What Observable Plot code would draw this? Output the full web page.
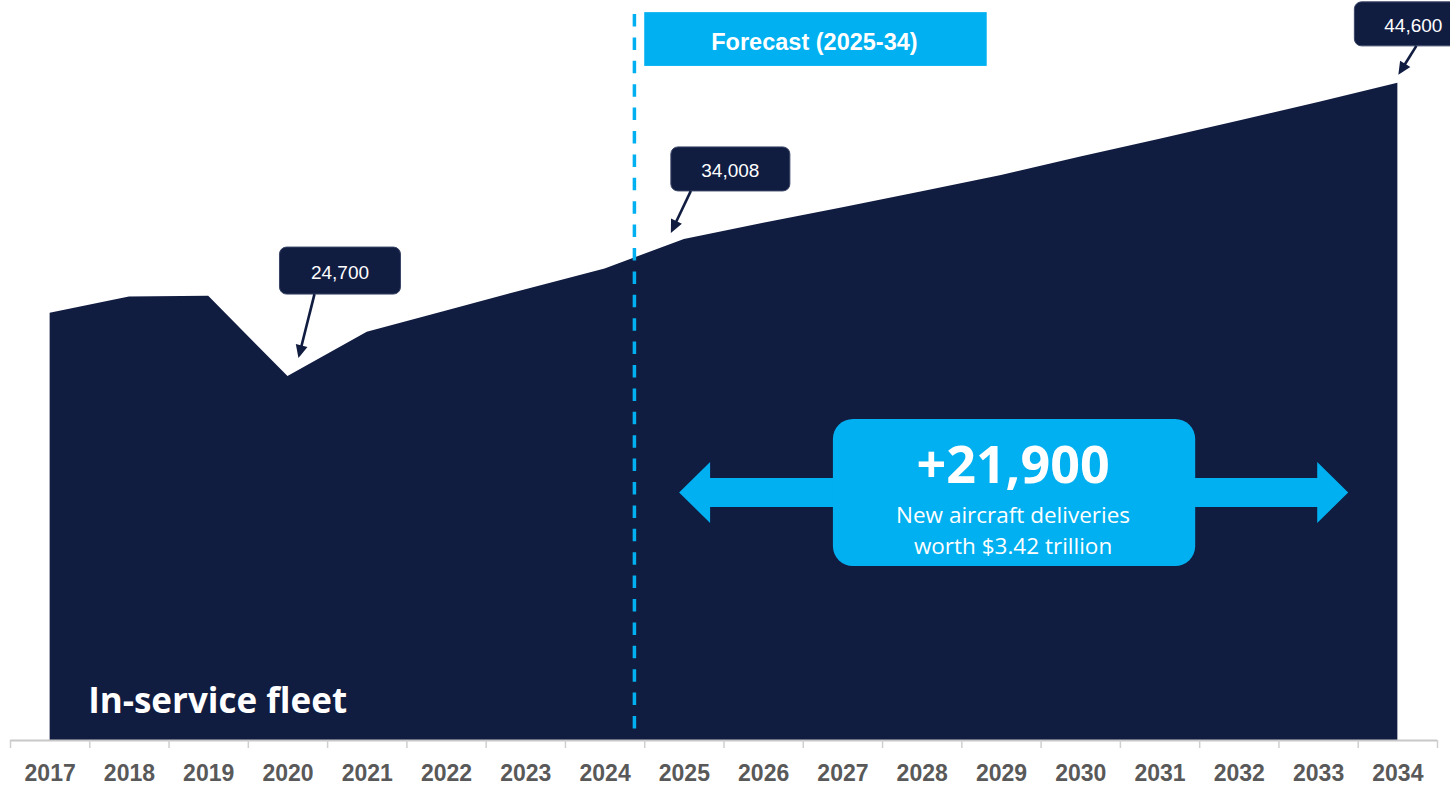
<!DOCTYPE html>
<html>
<head>
<meta charset="utf-8">
<script src="https://cdn.jsdelivr.net/npm/d3@7"></script>
<script src="https://cdn.jsdelivr.net/npm/@observablehq/plot@0.6"></script>
<style>
  html, body { margin: 0; padding: 0; background: #ffffff; overflow: hidden; }
  #chart svg { display: block; }
</style>
</head>
<body>
<div id="chart"></div>
<script>
// ---- data ----
const years = [2017, 2018, 2019, 2020, 2021, 2022, 2023, 2024, 2025, 2026, 2027, 2028, 2029, 2030, 2031, 2032, 2033, 2034];
const fleet = [29000, 30100, 30150, 24700, 27700, 29150, 30600, 32000, 34008, 35100, 36150, 37250, 38350, 39600, 40800, 42050, 43300, 44600];
const tickLabels = years.map(String);
const calloutYears = [2020, 2025, 2034];
const calloutLabels = ["24,700", "34,008", "44,600"];
const forecastLabel = "Forecast (2025-34)";
const forecastStart = 2024.37;
const deliveriesHeadline = "+21,900";
const deliveriesLines = ["New aircraft deliveries", "worth $3.42 trillion"];
const seriesLabel = "In-service fleet";

const NAVY = "#111c41";
const CYAN = "#00b0f0";

const table = years.map((year, i) => ({year, value: fleet[i]}));
const boundaries = years.map(y => y - 0.5).concat([years[years.length - 1] + 0.5]);

// callout styling (pixel offsets relative to the data point)
const calloutStyle = [
  {box: [-8, -129, 121, 47], from: [27, -82], to: [11, -18]},
  {box: [-13, -92, 119, 44], from: [7, -48], to: [-13, -6]},
  {box: [-43, -81, 120, 44], from: [19, -37], to: [1, -8], textDx: -1}
];

function annotations(index, scales) {
  const x = scales.x, y = scales.y;
  const g = d3.create("svg:g").attr("text-anchor", "start");

  // Forecast banner
  const fx1 = x(2024.5), fx2 = x(2028.82), fy1 = y(49400), fy2 = y(45750);
  g.append("rect").attr("x", fx1).attr("y", fy1).attr("width", fx2 - fx1).attr("height", fy2 - fy1).attr("fill", CYAN);
  g.append("text").attr("x", (fx1 + fx2) / 2 - 1).attr("y", (fy1 + fy2) / 2 + 10.5)
    .attr("text-anchor", "middle").attr("fill", "#fff")
    .attr("font-family", "'Liberation Sans', Arial, sans-serif").attr("font-weight", "bold").attr("font-size", 23.5)
    .text(forecastLabel);

  // value callouts
  calloutYears.forEach((yr, i) => {
    const v = fleet[years.indexOf(yr)];
    const px = x(yr), py = y(v);
    const s = calloutStyle[i];
    const [bl, bt, bw, bh] = s.box;
    g.append("rect").attr("x", px + bl).attr("y", py + bt).attr("width", bw).attr("height", bh)
      .attr("rx", 7).attr("fill", NAVY).attr("stroke", "#3a4566").attr("stroke-width", 1);
    g.append("text").attr("x", px + bl + bw / 2 + (s.textDx || 0)).attr("y", py + bt + bh / 2 + 8)
      .attr("text-anchor", "middle").attr("fill", "#ffffff")
      .attr("font-family", "'Liberation Sans', Arial, sans-serif").attr("font-size", 19)
      .text(calloutLabels[i]);
    const sx = px + s.from[0], sy = py + s.from[1], tx = px + s.to[0], ty = py + s.to[1];
    const dx = tx - sx, dy = ty - sy, len = Math.hypot(dx, dy);
    const ux = dx / len, uy = dy / len;
    const hl = 13, hw = 6;
    g.append("line").attr("x1", sx).attr("y1", sy).attr("x2", tx - ux * (hl - 2)).attr("y2", ty - uy * (hl - 2))
      .attr("stroke", NAVY).attr("stroke-width", 2.6);
    const bx = tx - ux * hl, by = ty - uy * hl;
    g.append("polygon").attr("points", [
      [tx, ty], [bx - uy * hw, by + ux * hw], [bx + uy * hw, by - ux * hw]
    ].map(p => p.join(",")).join(" ")).attr("fill", NAVY);
  });

  // deliveries double arrow
  const L = x(2024.94), R = x(2033.38), cy = y(16800);
  const hL = 31, hH = 30.5, sH = 14.5;
  const pts = [[L, cy], [L + hL, cy - hH], [L + hL, cy - sH], [R - hL, cy - sH], [R - hL, cy - hH], [R, cy],
               [R - hL, cy + hH], [R - hL, cy + sH], [L + hL, cy + sH], [L + hL, cy + hH]];
  g.append("polygon").attr("points", pts.map(p => p.join(",")).join(" ")).attr("fill", CYAN);

  const bx1 = x(2026.88), bx2 = x(2031.45), by1 = y(21790), by2 = y(11810);
  g.append("rect").attr("x", bx1).attr("y", by1).attr("width", bx2 - bx1).attr("height", by2 - by1)
    .attr("rx", 20).attr("fill", CYAN);
  const cx = (bx1 + bx2) / 2 - 1;
  g.append("text").attr("x", cx).attr("y", by1 + 64).attr("text-anchor", "middle").attr("fill", "#fff")
    .attr("font-family", "'Open Sans', sans-serif").attr("font-weight", "bold").attr("font-size", 52)
    .text(deliveriesHeadline);
  deliveriesLines.forEach((t, i) => {
    g.append("text").attr("x", cx).attr("y", by1 + 104 + i * 31.5).attr("text-anchor", "middle").attr("fill", "#fff")
      .attr("font-family", "'Open Sans', sans-serif").attr("font-size", 22.5)
      .text(t);
  });

  // series label
  g.append("text").attr("x", x(2017) + 38.5).attr("y", y(0) - 27).attr("text-anchor", "start")
    .attr("fill", "#fff").attr("font-family", "'Open Sans', sans-serif").attr("font-weight", "bold").attr("font-size", 35)
    .text(seriesLabel);

  return g.node();
}

const chart = Plot.plot({
  width: 1450,
  height: 785,
  marginLeft: 10,
  marginRight: 13,
  marginTop: 0,
  marginBottom: 45,
  style: {background: "#ffffff", fontFamily: "'Liberation Sans', Arial, sans-serif"},
  x: {type: "linear", domain: [2016.5, 2034.5], label: null},
  y: {domain: [0, 50224], axis: null, label: null},
  marks: [
    Plot.areaY(table, {x: "year", y: "value", fill: NAVY}),
    Plot.ruleX([forecastStart], {stroke: CYAN, strokeWidth: 3.5, strokeDasharray: "12.5,10.9", insetTop: 14, insetBottom: 11}),
    Plot.ruleY([0], {stroke: "#c8c8c8", strokeWidth: 2}),
    Plot.axisX({ticks: boundaries, tickSize: 8, tickFormat: () => "", label: null, stroke: "#cfcfcf", strokeWidth: 1.5}),
    Plot.axisX({ticks: years, tickSize: 0, tickPadding: 24, label: null, tickFormat: (d) => tickLabels[years.indexOf(d)],
      fontSize: 23, fontWeight: "bold", fill: "#595959", fontFamily: "'Liberation Sans', Arial, sans-serif"}),
    annotations
  ]
});
document.getElementById("chart").appendChild(chart);
</script>
</body>
</html>
